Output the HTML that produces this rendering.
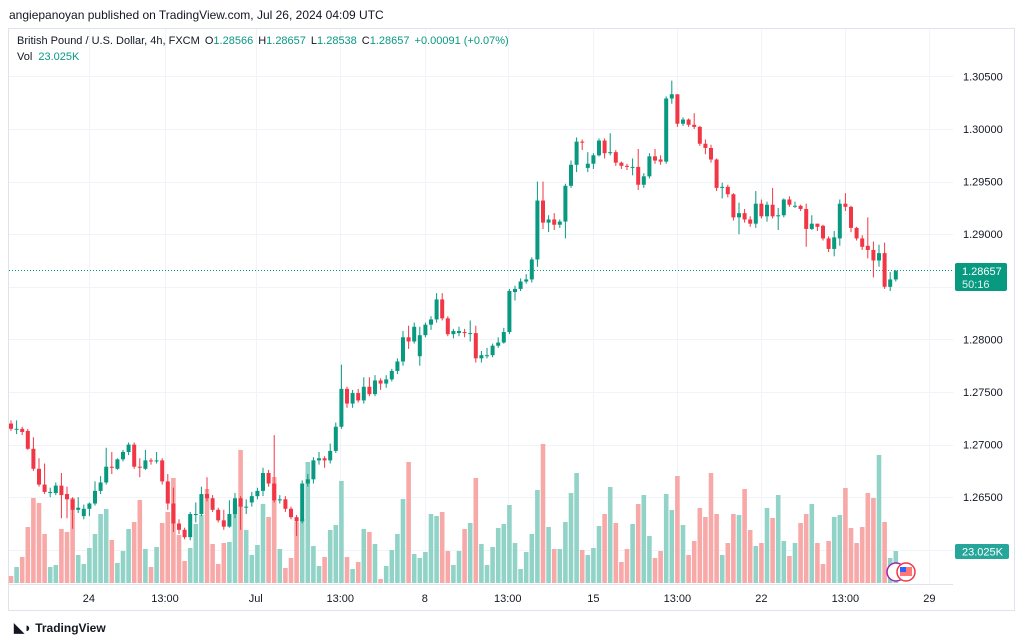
<!DOCTYPE html>
<html><head><meta charset="utf-8"><style>
body{margin:0;background:#fff;width:1024px;height:643px;overflow:hidden;font-family:"Liberation Sans",sans-serif}
svg{position:absolute;left:0;top:0}
</style></head><body>
<svg id="chart" width="1024" height="643" xmlns="http://www.w3.org/2000/svg">
<text x="9" y="19" font-size="12" fill="#131722">angiepanoyan published on TradingView.com, Jul 26, 2024 04:09 UTC</text>
<rect x="8.5" y="28.5" width="1006" height="582" fill="none" stroke="#e0e3eb"/>
<g id="grid"></g>
<g id="vols"></g>
<line x1="9" x2="953" y1="270.5" y2="270.5" stroke="#089981" stroke-dasharray="1 2"/>
<g id="candles"></g>
<line x1="9" x2="953" y1="584.5" y2="584.5" stroke="#e0e3eb"/>
<g id="yticks" font-size="11" fill="#131722"></g>
<g id="xticks" font-size="11" fill="#131722"></g>
<text x="17" y="44" font-size="11" fill="#131722">British Pound / U.S. Dollar, 4h, FXCM <tspan dx="2">O</tspan><tspan fill="#089981">1.28566</tspan><tspan dx="5">H</tspan><tspan fill="#089981">1.28657</tspan><tspan dx="5">L</tspan><tspan fill="#089981">1.28538</tspan><tspan dx="5">C</tspan><tspan fill="#089981">1.28657</tspan><tspan dx="5" fill="#089981">+0.00091 (+0.07%)</tspan></text>
<text x="17" y="60" font-size="11" fill="#131722">Vol <tspan dx="3" fill="#089981">23.025K</tspan></text>
<rect x="955" y="263" width="52" height="28" rx="2" fill="#089981"/>
<text x="962" y="275" font-size="11" fill="#fff">1.28657</text>
<text x="962" y="288" font-size="11" fill="#dff2ee">50:16</text>
<rect x="955" y="544" width="54" height="15" rx="2" fill="#26a69a"/>
<text x="962" y="555.5" font-size="11" fill="#fff">23.025K</text>
<circle cx="896" cy="572" r="9" fill="#fff" stroke="#9c27b0" stroke-width="1.5"/>
<circle cx="906" cy="572" r="9" fill="#fff" stroke="#f23645" stroke-width="1.5"/>
<rect x="900" y="567" width="12" height="9" fill="#f77"/>
<rect x="900" y="567" width="6" height="5" fill="#2962ff"/>
<text x="14" y="632" font-size="12" font-weight="bold" fill="#131722"><tspan font-size="13">◣◗</tspan> TradingView</text>
</svg>
<script>
const opens=[1.2720,1.2715,1.2715,1.2713,1.2696,1.2677,1.2662,1.2655,1.2654,1.2661,1.2653,1.2648,1.2638,1.2632,1.2639,1.2644,1.2656,1.2664,1.2679,1.2677,1.2686,1.2693,1.2700,1.2679,1.2677,1.2685,1.2684,1.2685,1.2665,1.2644,1.2625,1.2619,1.2612,1.2634,1.2634,1.2653,1.2649,1.2638,1.2628,1.2622,1.2634,1.2649,1.2641,1.2645,1.2651,1.2656,1.2673,1.2663,1.2647,1.2648,1.2639,1.2631,1.2627,1.2663,1.2667,1.2685,1.2687,1.2685,1.2694,1.2717,1.2753,1.2739,1.2749,1.2742,1.2755,1.2748,1.2761,1.2758,1.2762,1.2770,1.2779,1.2802,1.2798,1.2784,1.2804,1.2814,1.2819,1.2838,1.2820,1.2805,1.2806,1.2807,1.2806,1.2806,1.2782,1.2785,1.2785,1.2794,1.2797,1.2807,1.2845,1.2848,1.2855,1.2857,1.2876,1.2932,1.2911,1.2914,1.2909,1.2912,1.2946,1.2966,1.2988,1.2963,1.2967,1.2975,1.2989,1.2977,1.2978,1.2968,1.2965,1.2964,1.2964,1.2947,1.2955,1.2974,1.2971,1.2969,1.3029,1.3033,1.3005,1.3009,1.3004,1.3002,1.2986,1.2982,1.2971,1.2944,1.2945,1.2938,1.2916,1.2920,1.2914,1.2910,1.2929,1.2917,1.2928,1.2917,1.2918,1.2933,1.2927,1.2927,1.2924,1.2905,1.2910,1.2908,1.2896,1.2886,1.2896,1.2929,1.2926,1.2906,1.2896,1.2889,1.2885,1.2875,1.2882,1.2850,1.2857];
const closes=[1.2715,1.2715,1.2712,1.2696,1.2677,1.2662,1.2655,1.2655,1.2661,1.2652,1.2648,1.2638,1.2640,1.2639,1.2644,1.2656,1.2664,1.2679,1.2678,1.2686,1.2693,1.2700,1.2679,1.2678,1.2685,1.2684,1.2685,1.2665,1.2644,1.2625,1.2619,1.2612,1.2634,1.2634,1.2653,1.2649,1.2638,1.2628,1.2622,1.2634,1.2649,1.2641,1.2641,1.2651,1.2656,1.2673,1.2663,1.2647,1.2648,1.2639,1.2631,1.2627,1.2663,1.2667,1.2685,1.2687,1.2685,1.2694,1.2717,1.2753,1.2739,1.2749,1.2742,1.2755,1.2748,1.2761,1.2758,1.2762,1.2770,1.2779,1.2802,1.2798,1.2812,1.2804,1.2814,1.2819,1.2838,1.2820,1.2805,1.2808,1.2808,1.2806,1.2806,1.2782,1.2785,1.2785,1.2794,1.2797,1.2807,1.2846,1.2848,1.2855,1.2857,1.2876,1.2932,1.2911,1.2914,1.2909,1.2912,1.2946,1.2966,1.2988,1.2987,1.2967,1.2975,1.2989,1.2977,1.2978,1.2968,1.2965,1.2964,1.2964,1.2947,1.2955,1.2974,1.2970,1.2969,1.3029,1.3033,1.3005,1.3009,1.3004,1.3002,1.2986,1.2982,1.2971,1.2944,1.2945,1.2938,1.2916,1.2920,1.2914,1.2910,1.2929,1.2917,1.2928,1.2917,1.2918,1.2933,1.2928,1.2927,1.2924,1.2905,1.2910,1.2907,1.2896,1.2886,1.2897,1.2929,1.2926,1.2906,1.2896,1.2888,1.2885,1.2875,1.2882,1.2850,1.2857,1.2865];
const highs=[1.2723,1.2723,1.2717,1.2715,1.2707,1.2687,1.2682,1.2659,1.2664,1.2673,1.2660,1.2650,1.2650,1.2643,1.2645,1.2665,1.2670,1.2697,1.2693,1.2687,1.2695,1.2702,1.2702,1.2687,1.2695,1.2687,1.2693,1.2687,1.2672,1.2659,1.2629,1.2621,1.2636,1.2645,1.2660,1.2669,1.2652,1.2640,1.2638,1.2647,1.2654,1.2651,1.2648,1.2655,1.2659,1.2678,1.2676,1.2709,1.2652,1.2651,1.2641,1.2633,1.2666,1.2672,1.2688,1.2693,1.2689,1.2701,1.2721,1.2776,1.2755,1.2752,1.2753,1.2764,1.2764,1.2766,1.2763,1.2766,1.2772,1.2782,1.2808,1.2813,1.2816,1.2812,1.2816,1.2822,1.2844,1.2844,1.2822,1.2810,1.2812,1.2810,1.2818,1.2813,1.2789,1.2792,1.2796,1.2802,1.2811,1.2848,1.2851,1.2858,1.2862,1.2878,1.2950,1.2950,1.2918,1.2920,1.2914,1.2948,1.2970,1.2992,1.2990,1.2978,1.2977,1.2991,1.2991,1.2996,1.2980,1.2969,1.2967,1.2972,1.2981,1.2958,1.2977,1.2981,1.2975,1.3031,1.3046,1.3033,1.3011,1.3010,1.3015,1.3003,1.2990,1.2985,1.2972,1.2949,1.2947,1.2939,1.2930,1.2924,1.2917,1.2941,1.2933,1.2931,1.2944,1.2925,1.2934,1.2936,1.2931,1.2928,1.2929,1.2918,1.2910,1.2909,1.2898,1.2903,1.2933,1.2939,1.2927,1.2907,1.2899,1.2916,1.2893,1.2890,1.2892,1.2864,1.2866];
const lows=[1.2713,1.2710,1.2709,1.2695,1.2675,1.2660,1.2653,1.2650,1.2652,1.2630,1.2630,1.2620,1.2635,1.2629,1.2632,1.2642,1.2653,1.2662,1.2672,1.2676,1.2684,1.2690,1.2677,1.2669,1.2676,1.2681,1.2682,1.2662,1.2638,1.2617,1.2615,1.2610,1.2609,1.2626,1.2632,1.2646,1.2636,1.2626,1.2619,1.2621,1.2630,1.2619,1.2634,1.2641,1.2648,1.2651,1.2660,1.2645,1.2644,1.2636,1.2629,1.2613,1.2625,1.2660,1.2663,1.2681,1.2678,1.2682,1.2692,1.2715,1.2735,1.2735,1.2740,1.2739,1.2746,1.2746,1.2752,1.2754,1.2760,1.2767,1.2775,1.2791,1.2796,1.2775,1.2802,1.2809,1.2816,1.2818,1.2803,1.2801,1.2803,1.2802,1.2798,1.2778,1.2778,1.2782,1.2783,1.2792,1.2796,1.2805,1.2837,1.2846,1.2853,1.2854,1.2869,1.2905,1.2902,1.2904,1.2906,1.2896,1.2944,1.2959,1.2980,1.2959,1.2962,1.2974,1.2972,1.2975,1.2965,1.2962,1.2961,1.2956,1.2942,1.2944,1.2953,1.2967,1.2966,1.2967,1.3024,1.3002,1.3003,1.3002,1.3000,1.2984,1.2976,1.2968,1.2941,1.2934,1.2935,1.2913,1.2900,1.2911,1.2907,1.2906,1.2915,1.2912,1.2915,1.2904,1.2916,1.2926,1.2925,1.2922,1.2888,1.2904,1.2903,1.2894,1.2883,1.2879,1.2889,1.2922,1.2902,1.2894,1.2885,1.2877,1.2859,1.2869,1.2848,1.2846,1.2855];
const volumes=[7,16,26,56,85,80,49,16,18,54,51,85,28,19,35,49,69,74,43,20,32,54,61,83,34,16,36,60,71,105,48,22,35,59,68,94,39,19,40,41,79,133,53,28,38,79,66,106,34,15,25,61,64,121,37,17,26,53,58,102,26,14,21,54,51,39,4,17,33,49,84,121,29,25,31,69,67,71,32,18,32,54,60,105,39,18,36,55,59,78,40,14,31,49,93,139,56,34,34,61,90,110,33,28,35,57,69,96,60,21,34,59,79,88,47,25,32,89,73,107,58,28,42,75,66,110,69,28,40,69,68,94,53,37,40,75,65,88,42,27,40,60,69,79,40,19,42,66,68,95,55,40,56,90,85,128,61,25,32];
const priceTicks=[1.305,1.300,1.295,1.290,1.280,1.275,1.270,1.265];
const gridPrices=[1.305,1.300,1.295,1.290,1.285,1.280,1.275,1.270,1.265,1.260];
const timeLabels=["24","13:00","Jul","13:00","8","13:00","15","13:00","22","13:00","29"];
const timeLabelIdx=[13.9,27.5,43.7,58.8,73.9,88.7,104,119,134,149,164];

const NS="http://www.w3.org/2000/svg";
const xOf=i=>11+i*5.6;
const yOf=p=>129-(p-1.300)*10520;
const vOf=v=>583-v;
function mk(tag,attrs,parent){const e=document.createElementNS(NS,tag);for(const k in attrs)e.setAttribute(k,attrs[k]);parent.appendChild(e);return e;}
const grid=document.getElementById('grid');
gridPrices.forEach(p=>{const l=mk('line',{x1:9,x2:953,y1:Math.round(yOf(p))+0.5,y2:Math.round(yOf(p))+0.5,stroke:'#f0f3fa'},grid);

});
timeLabelIdx.forEach(i=>{const l=mk('line',{x1:Math.round(xOf(i))+0.5,x2:Math.round(xOf(i))+0.5,y1:29,y2:584,stroke:'#f0f3fa'},grid);

});
const yt=document.getElementById('yticks');
priceTicks.forEach(p=>{const t=mk('text',{x:963,y:yOf(p)+4},yt);t.textContent=p.toFixed(5);

});
const xt=document.getElementById('xticks');
timeLabels.forEach((s,k)=>{const t=mk('text',{x:xOf(timeLabelIdx[k]),y:602,'text-anchor':'middle'},xt);t.textContent=s;

});
const vg=document.getElementById('vols'),cg=document.getElementById('candles');
opens.forEach((o,i)=>{const c=closes[i],up=c>=o,x=xOf(i);
const vb=mk('rect',{x:x-2.3,y:vOf(volumes[i]),width:4.6,height:583-vOf(volumes[i]),fill:up?'#92d3c8':'#f7a9a7'},vg);


const col=up?'#089981':'#f23645';
const w=mk('line',{x1:x,x2:x,y1:yOf(highs[i]),y2:yOf(lows[i]),stroke:col,'stroke-width':1},cg);


const top=yOf(Math.max(o,c)),h=Math.max(1,yOf(Math.min(o,c))-top);
const b=mk('rect',{x:x-2,y:top,width:4,height:h,fill:col},cg);

});
</script>
</body></html>
